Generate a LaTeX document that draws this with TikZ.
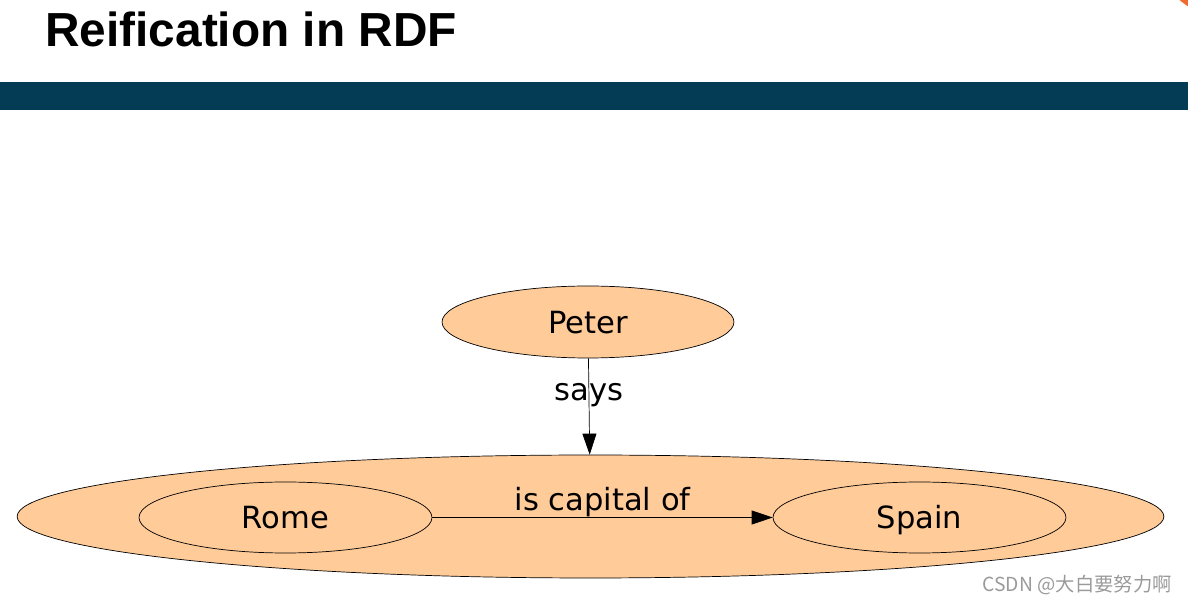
\documentclass[tikz,border=0pt]{standalone}
\usepackage{fontspec}
\usepackage{tikz}
\usetikzlibrary{arrows.meta,positioning,shapes.geometric}
\setmainfont{DejaVu Sans}
\newfontfamily\titlefont{Liberation Sans}
\newfontfamily\cjk{Noto Sans CJK SC}
\definecolor{peach}{HTML}{FFCB99}
\definecolor{bar}{HTML}{043B55}
\definecolor{logo}{HTML}{F26B2E}
\definecolor{wm}{HTML}{9A9A9A}
\tikzset{
  res/.style={draw=black,ellipse,fill=peach,inner sep=0pt,text height=0.45cm,text depth=0cm,
    font=\fontsize{17.4}{20}\selectfont},
  stmt/.style={res,minimum width=22.94cm,minimum height=2.46cm},
  ar/.style={-{Triangle[length=0.42cm,width=0.28cm]},draw=black,thin},
  lbl/.style={font=\fontsize{17.4}{20}\selectfont,inner sep=0pt},
}

\begin{document}
\begin{tikzpicture}[x=0.02cm,y=-0.02cm]
\useasboundingbox (0,0) rectangle (1188,604);
\begin{scope}
  \clip (0,0) rectangle (1188,604);
  \fill[logo] (1220,-45) circle[radius=60.5];
\end{scope}
\node[anchor=base west,inner sep=0pt,font=\titlefont\bfseries\fontsize{27.2}{32}\selectfont]
   (title) at (45,47) {Reification in RDF};
\fill[bar] (0,82) rectangle (1188,110);
\node[res,minimum width=5.84cm,minimum height=1.44cm] (peter) at (588,322) {Peter};
\node[stmt] (st) at (590.5,516.5) {};
\node[res,minimum width=5.86cm,minimum height=1.42cm] (rome) at (285.5,517.5) {Rome};
\node[res,minimum width=5.86cm,minimum height=1.42cm] (spain) at (919.5,517.5) {Spain};
\draw[ar] (peter) -- node[lbl,pos=0.38] {says} (st);
\draw[ar] (rome) -- node[lbl,above] {is capital of} (spain);
\node[anchor=base east,inner sep=0pt,text=wm,font=\cjk\fontsize{11}{13}\selectfont]
   (mark) at (1172,592) {CSDN @大白要努力啊};
\end{tikzpicture}
\end{document}
